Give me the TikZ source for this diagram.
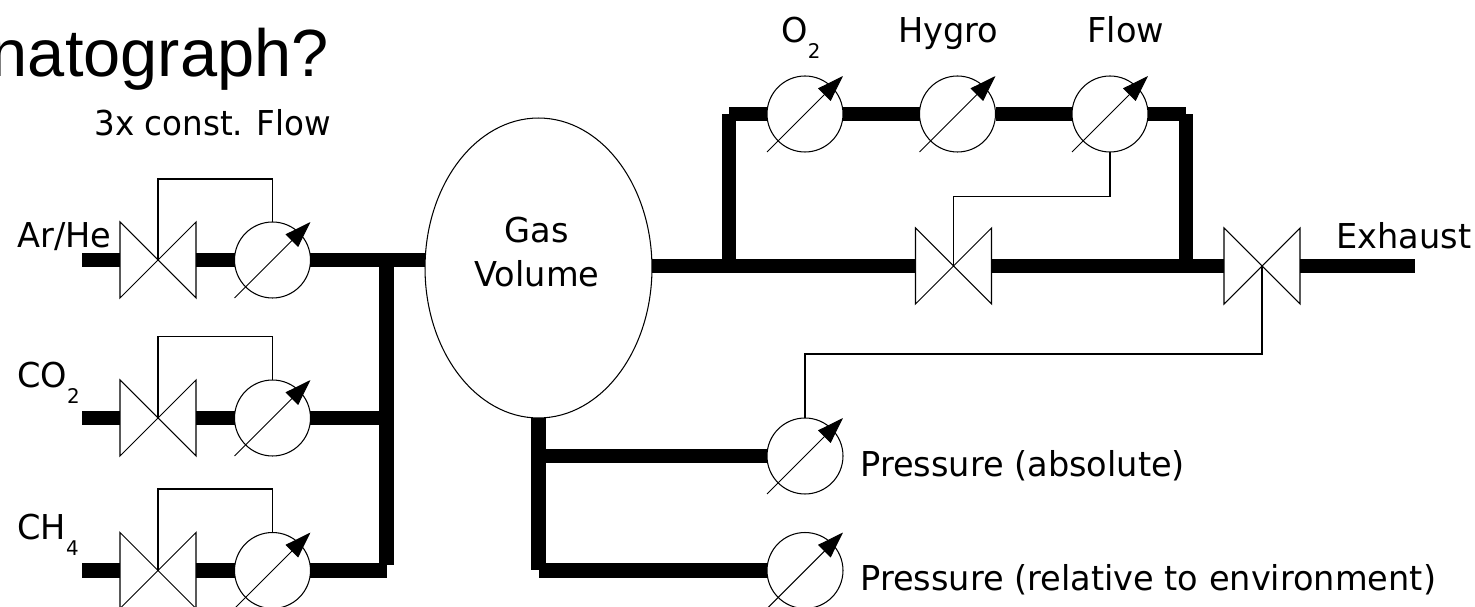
\documentclass[tikz,border=0pt]{standalone}
\usepackage{fontspec}
\setmainfont{DejaVu Sans}[FakeStretch=0.98]
\newfontfamily\titlefont{Liberation Sans}
\newfontfamily\narrowfont{DejaVu Sans}[FakeStretch=0.95]
\usetikzlibrary{arrows.meta,positioning,shapes.geometric}
\newcommand{\lowsub}[1]{\raisebox{-9pt}{\fontsize{11.5}{12}\selectfont #1}}
\tikzset{
  pipe/.style={line width=8.5pt},
  thinline/.style={line width=0.6pt},
  lbl/.style={inner sep=0pt, anchor=base west, font=\fontsize{19.5}{25}\selectfont},
  valve/.style={minimum size=1.52cm, inner sep=0pt, outer sep=0pt, append after command={\pgfextra{
    \draw[thinline] (\tikzlastnode.south west) -- (\tikzlastnode.north east) -- (\tikzlastnode.south east) -- (\tikzlastnode.north west) -- cycle;
  }}},
  gauge/.style={circle, draw, thinline, minimum size=1.52cm, inner sep=0pt, outer sep=0pt, append after command={\pgfextra{
    \draw[thinline, -{Triangle[length=15pt,width=10pt]}] ([shift={(-38,38)}]\tikzlastnode.center) -- ([shift={(38,-38)}]\tikzlastnode.center);
  }}}
}

\begin{document}
\begin{tikzpicture}[x=0.02cm, y=-0.02cm]
\useasboundingbox (0, 0) rectangle (1475, 607);

% gas inlets
\node [valve] (valve_ar) at (158, 260) {};
\node [valve] (valve_co) at (158, 418) {};
\node [valve] (valve_ch) at (158, 570.5) {};
\node [gauge] (gauge_ar) at (272.5, 260) {};
\node [gauge] (gauge_co) at (272.5, 418) {};
\node [gauge] (gauge_ch) at (272.5, 570.5) {};
\node [ellipse, draw, thinline, minimum width=4.54cm, minimum height=6cm, inner sep=0pt, outer sep=0pt] (gas_volume) at (538.5, 268) {};

\coordinate (in_ar) at (82, 260);
\coordinate (in_co) at (82, 418);
\coordinate (in_ch) at (82, 570.5);
\coordinate (join_ar) at (386.5, 260);
\coordinate (join_co) at (386.5, 418);
\coordinate (join_ch) at (386.5, 570.5);
\coordinate (join_end) at (386.5, 565);

\draw[pipe] (in_ar) to (valve_ar.west);
\draw[pipe] (valve_ar.east) to (gauge_ar.west);
\draw[pipe] (gauge_ar.east) to (gauge_ar.east -| gas_volume.west);
\draw[pipe] (in_co) to (valve_co.west);
\draw[pipe] (valve_co.east) to (gauge_co.west);
\draw[pipe] (gauge_co.east) to (join_co);
\draw[pipe] (in_ch) to (valve_ch.west);
\draw[pipe] (valve_ch.east) to (gauge_ch.west);
\draw[pipe] (gauge_ch.east) to (join_ch);
\draw[pipe] (join_ar) to (join_end);

\draw[thinline] (valve_ar.center) -- ++(0, -81) -| (gauge_ar.north);
\draw[thinline] (valve_co.center) -- ++(0, -81.5) -| (gauge_co.north);
\draw[thinline] (valve_ch.center) -- ++(0, -81.5) -| (gauge_ch.north);

% measurement branch
\node [gauge] (gauge_oxy) at (805, 114) {};
\node [gauge] (gauge_hyg) at (957.5, 114) {};
\node [gauge] (gauge_flow) at (1110, 114) {};
\node [valve] (valve_flow) at (953.5, 266) {};
\node [valve] (valve_out) at (1262, 266) {};

\coordinate (branch_in) at (729, 266);
\coordinate (branch_out) at (1186, 266);
\coordinate (corner_in) at (729, 114);
\coordinate (corner_out) at (1186, 114);
\coordinate (exhaust_end) at (1414.5, 266);

\draw[pipe] (valve_flow.west -| gas_volume.east) to (valve_flow.west);
\draw[pipe] (valve_flow.east) to (valve_out.west);
\draw[pipe] (valve_out.east) to (exhaust_end);
\draw[pipe] (branch_in) to (corner_in);
\draw[pipe] (branch_out) to (corner_out);
\draw[pipe] (corner_in) to (gauge_oxy.west);
\draw[pipe] (gauge_oxy.east) to (gauge_hyg.west);
\draw[pipe] (gauge_hyg.east) to (gauge_flow.west);
\draw[pipe] (gauge_flow.east) to (corner_out);

\draw[thinline] (gauge_flow.south) |- (953.5, 196.5) -- (valve_flow.center);

% pressure sensors
\node [gauge] (gauge_abs) at (805, 456) {};
\node [gauge] (gauge_rel) at (805, 570.5) {};
\coordinate (press_end) at (538.5, 570.5);

\draw[pipe] (gas_volume.south) to (press_end);
\draw[pipe] (gas_volume.south |- gauge_abs.west) to (gauge_abs.west);
\draw[pipe] (press_end) to (gauge_rel.west);
\draw[thinline] (valve_out.center) |- (805, 354) -- (gauge_abs.north);

% labels
\node [inner sep=0pt, anchor=base east, font=\titlefont\fontsize{38}{40}\selectfont] (title) at (329, 77) {natograph?};
\node [lbl, font=\narrowfont\fontsize{19.5}{25}\selectfont] (flow_text) at (94, 136) {3x const. Flow};
\node [lbl] (ar_text) at (17, 248) {Ar/He};
\node [lbl] (co_text) at (17, 388) {CO\lowsub{2}};
\node [lbl] (ch_text) at (17, 540) {CH\lowsub{4}};
\node [lbl] (oxy_text) at (781, 42.5) {O\lowsub{2}};
\node [lbl] (hyg_text) at (898, 42.5) {Hygro};
\node [lbl] (flw_text) at (1087, 42.5) {Flow};
\node [lbl] (exh_text) at (1336, 249) {Exhaust};
\node [lbl, anchor=base] (gas_text) at (537, 243) {Gas};
\node [lbl, anchor=base] (vol_text) at (537, 287) {Volume};
\node [lbl] (abs_text) at (860, 477) {Pressure (absolute)};
\node [lbl] (rel_text) at (860, 591) {Pressure (relative to environment)};

\end{tikzpicture}
\end{document}
